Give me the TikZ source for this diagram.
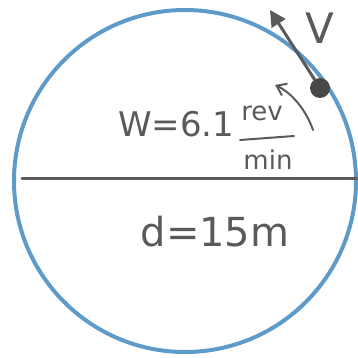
\documentclass[tikz,border=0pt]{standalone}
\usepackage{fontspec}
\setmainfont{DejaVu Sans}
\usetikzlibrary{arrows.meta}
\definecolor{wheel}{RGB}{95,155,200}
\definecolor{ink}{RGB}{90,90,90}
\begin{document}
\begin{tikzpicture}[x=1pt,y=-1pt,
  ink line/.style={draw=ink,line width=2.2pt,line cap=round},
  label text/.style={text=ink,font=\fontsize{34}{36}\selectfont,inner sep=0pt}]
\useasboundingbox (0,0) rectangle (357,358);
\node[draw=wheel,line width=4pt,circle,minimum size=342pt,inner sep=0pt] (wheel) at (185,181) {};
\coordinate (diamL) at (22,178);
\coordinate (diamR) at (357,178);
\draw[ink line,line width=3pt] (diamL) -- (diamR);
\node[circle,fill=ink!80!black,minimum size=20pt,inner sep=0pt] (mass) at (320,88) {};
\coordinate (vtip) at (270,10);
\draw[ink line,line width=3pt,-{Triangle[length=16pt,width=16pt]}] (mass) -- (vtip);
\node[label text,font=\fontsize{42}{44}\selectfont] (vlabel) at (320,28) {V};
\node[label text,anchor=west] (omega) at (118,124) {W=6.1};
\node[text=ink,font=\fontsize{26}{28}\selectfont,inner sep=0pt] (rev) at (262,113) {rev};
\coordinate (fracL) at (240,140);
\coordinate (fracR) at (294,136);
\draw[ink line,line width=2pt] (fracL) -- (fracR);
\node[text=ink,font=\fontsize{26}{28}\selectfont,inner sep=0pt] (min) at (268,160) {min};
\coordinate (arcS) at (313,130);
\coordinate (arcE) at (275,85);
\draw[ink line,line width=2pt,-{Straight Barb[length=9pt,width=13pt]}] (arcS) .. controls (306,110) and (292,93) .. (arcE);
\node[label text,font=\fontsize{40}{42}\selectfont] (diam) at (215,232) {d=15m};
\end{tikzpicture}
\end{document}
